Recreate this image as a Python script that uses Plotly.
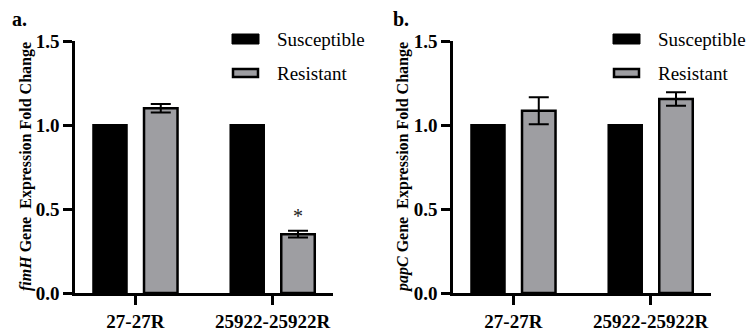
import plotly.graph_objects as go

# ---- data ----
categories = ["27-27R", "25922-25922R"]
fimH_susceptible = [1.0, 1.0]
fimH_resistant = [1.10, 0.35]
fimH_resistant_err = [0.025, 0.02]
papC_susceptible = [1.0, 1.0]
papC_resistant = [1.085, 1.155]
papC_resistant_err = [0.08, 0.04]
y_ticks = [0.0, 0.5, 1.0, 1.5]

# ---- style ----
FONT = "Liberation Serif, Times New Roman, serif"
GRAY = "#9e9ea2"
W, H = 756, 335
TOP, BOT = 41, 293
BARGAP, BARGROUPGAP = 0.26, 0.34
XR = [-0.44, 1.44]
LW = 2.5

def px(p):
    return p / W

def py(p):
    return (BOT - p) / (BOT - TOP)

fig = go.Figure()

panels = [
    ("x", "y", fimH_susceptible, fimH_resistant, fimH_resistant_err),
    ("x2", "y2", papC_susceptible, papC_resistant, papC_resistant_err),
]
for xa, ya, sus, res, err in panels:
    fig.add_trace(go.Bar(x=categories, y=sus, name="Susceptible", xaxis=xa, yaxis=ya,
                         marker=dict(color="black", line=dict(color="black", width=2)),
                         showlegend=False))
    fig.add_trace(go.Bar(x=categories, y=res, name="Resistant", xaxis=xa, yaxis=ya,
                         marker=dict(color=GRAY, line=dict(color="black", width=2.5)),
                         error_y=dict(type="data", array=err, color="black", thickness=2, width=10),
                         showlegend=False))

axis_common = dict(showline=True, linecolor="black", linewidth=LW, ticks="outside",
                   ticklen=9, tickwidth=LW, tickcolor="black", showgrid=False, zeroline=False,
                   tickfont=dict(family=FONT, size=19, color="black", weight="bold"))

dom_a = [px(75), px(333)]
dom_b = [px(453), px(711)]
fig.update_layout(
    width=W, height=H,
    margin=dict(l=0, r=0, t=TOP, b=H - BOT),
    plot_bgcolor="white", paper_bgcolor="white",
    font=dict(family=FONT, color="black"),
    barmode="group", bargap=BARGAP, bargroupgap=BARGROUPGAP,
    xaxis=dict(domain=dom_a, range=XR, anchor="y", **axis_common),
    xaxis2=dict(domain=dom_b, range=XR, anchor="y2", **axis_common),
    yaxis=dict(domain=[0, 1], range=[0, 1.5], tickvals=y_ticks, tickformat=".1f",
               anchor="x", **axis_common),
    yaxis2=dict(domain=[0, 1], range=[0, 1.5], tickvals=y_ticks, tickformat=".1f",
                anchor="x2", **axis_common),
)

annotations = []
shapes = []

# panel labels
for label, x0 in [("a.", 10), ("b.", 391)]:
    annotations.append(dict(text=f"<b>{label}</b>", x=px(x0), y=py(19), xref="paper", yref="paper",
                            xanchor="left", yanchor="middle", showarrow=False,
                            font=dict(family=FONT, size=20, color="black")))

# y-axis titles
for gene, xc in [("fimH", 26), ("papC", 403)]:
    annotations.append(dict(text=f"<b><i>{gene}</i> Gene&nbsp; Expression Fold Change</b>",
                            x=px(xc), y=py(167), xref="paper", yref="paper",
                            xanchor="center", yanchor="middle", textangle=-90, showarrow=False,
                            font=dict(family=FONT, size=16, color="black")))

# legends (swatches + text)
for sx, tx in [(232, 275), (613, 656)]:
    shapes.append(dict(type="rect", xref="paper", yref="paper",
                       x0=px(sx), x1=px(sx + 27), y0=py(44), y1=py(34),
                       fillcolor="black", line=dict(color="black", width=1)))
    shapes.append(dict(type="rect", xref="paper", yref="paper",
                       x0=px(sx + 1), x1=px(sx + 26), y0=py(77), y1=py(69),
                       fillcolor=GRAY, line=dict(color="black", width=2.5)))
    annotations.append(dict(text="Susceptible", x=px(tx), y=py(39), xref="paper", yref="paper",
                            xanchor="left", yanchor="middle", showarrow=False,
                            font=dict(family=FONT, size=19, color="black")))
    annotations.append(dict(text="Resistant", x=px(tx), y=py(73), xref="paper", yref="paper",
                            xanchor="left", yanchor="middle", showarrow=False,
                            font=dict(family=FONT, size=19, color="black")))

# significance asterisk over resistant bar of 25922-25922R (panel a)
px_per_unit = (dom_a[1] - dom_a[0]) * W / (XR[1] - XR[0])
offset_units = (1 - BARGAP) / 4
annotations.append(dict(text="*", x=categories[1], xref="x", yref="y",
                        y=fimH_resistant[1] + fimH_resistant_err[1],
                        xshift=offset_units * px_per_unit, yshift=2,
                        xanchor="center", yanchor="bottom", showarrow=False,
                        font=dict(family=FONT, size=20, color="#222222")))

fig.update_layout(annotations=annotations, shapes=shapes)
fig.write_html("out.html")
